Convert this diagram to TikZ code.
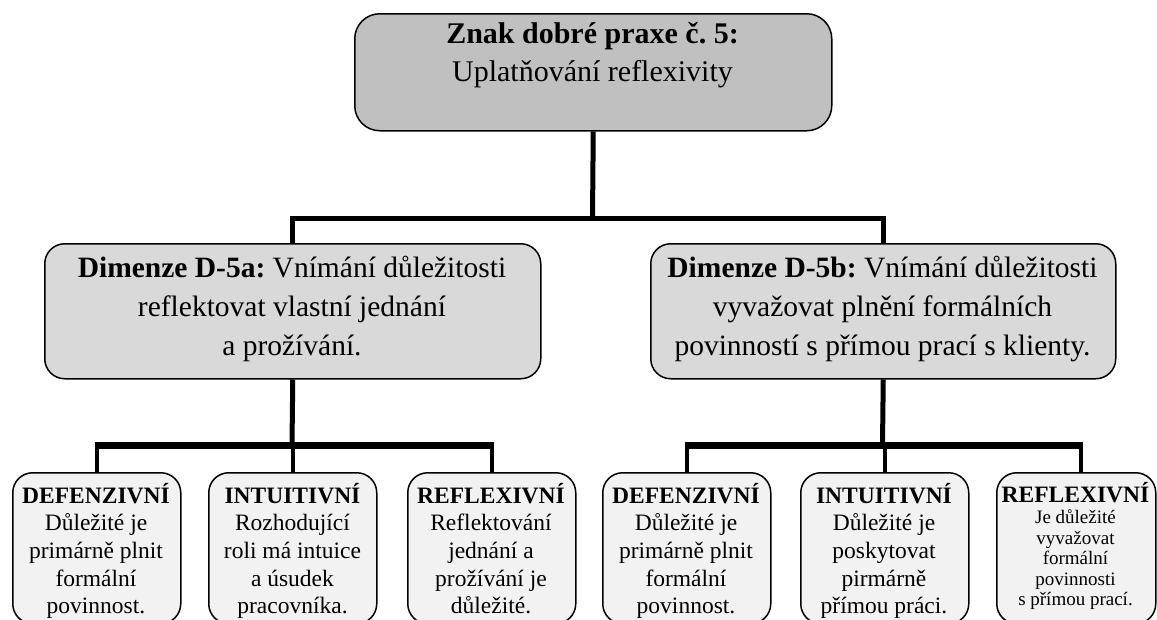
\documentclass[tikz,border=0pt]{standalone}
\usepackage{fontspec}
\setmainfont{Liberation Serif}
\definecolor{topfill}{HTML}{C0C0C0}
\definecolor{midfill}{HTML}{D9D9D9}
\definecolor{lowfill}{HTML}{F2F2F2}
\newcommand\mlines[3]{\fontsize{#1}{#2}\selectfont\frenchspacing\begin{tabular}[t]{@{}c@{}}#3\end{tabular}}
\tikzset{
  box/.style={draw=black, line width=1.5pt, rounded corners=20pt, inner sep=0pt, anchor=north west},
  topbox/.style={box, fill=topfill, rounded corners=25pt},
  midbox/.style={box, fill=midfill},
  lowbox/.style={box, fill=lowfill, minimum width=168pt, minimum height=151pt},
  txt/.style={anchor=base, inner sep=0pt},
  conn/.style={draw=black, line width=5pt, line join=miter},
  bar/.style={draw=black, line width=7pt},
  leg/.style={draw=black, line width=4.5pt},
}
\begin{document}
\begin{tikzpicture}[x=1pt, y=-1pt]
\path[use as bounding box] (0,0) rectangle (1157,619);
\clip (0,0) rectangle (1157,619);
\fill[white] (0,0) rectangle (1157,619);

% boxes
\node[topbox, minimum width=477pt, minimum height=117pt] (top) at (354,13) {};
\node[midbox, minimum width=496pt, minimum height=135pt] (d5a) at (44,243) {};
\node[midbox, minimum width=465pt, minimum height=135pt] (d5b) at (650,243) {};
\node[lowbox] (b1) at (12,472) {};
\node[lowbox] (b2) at (208,472) {};
\node[lowbox] (b3) at (407,472) {};
\node[lowbox] (b4) at (602,472) {};
\node[lowbox] (b5) at (800,472) {};
\node[lowbox, minimum width=159pt] (b6) at (996,472) {};

% texts
\node[txt] (topt) at (592.5,43) {\mlines{30}{38}{\textbf{Znak dobré praxe č. 5:}\\Uplatňování reflexivity}};
\node[txt] (d5at) at (292,277) {\mlines{29.5}{39}{\textbf{Dimenze D-5a:} Vnímání důležitosti\\reflektovat vlastní jednání\\a prožívání.}};
\node[txt] (d5bt) at (882.5,277) {\mlines{29.5}{39}{\textbf{Dimenze D-5b:} Vnímání důležitosti\\vyvažovat plnění formálních\\povinností s přímou prací s klienty.}};

\node[txt] (b1t) at (96,503) {\mlines{23.5}{27.7}{\textbf{DEFENZIVNÍ}\\Důležité je\\primárně plnit\\formální\\povinnost.}};
\node[txt] (b2t) at (292.5,503) {\mlines{23.5}{27.7}{\textbf{INTUITIVNÍ}\\Rozhodující\\roli má intuice\\a úsudek\\pracovníka.}};
\node[txt] (b3t) at (491,503) {\mlines{23.5}{27.7}{\textbf{REFLEXIVNÍ}\\Reflektování\\jednání a\\prožívání je\\důležité.}};
\node[txt] (b4t) at (686,503) {\mlines{23.5}{27.7}{\textbf{DEFENZIVNÍ}\\Důležité je\\primárně plnit\\formální\\povinnost.}};
\node[txt] (b5t) at (884,503) {\mlines{23.5}{27.7}{\textbf{INTUITIVNÍ}\\Důležité je\\poskytovat\\pirmárně\\přímou práci.}};
\node[txt] (b6h) at (1075.5,502) {\mlines{23.5}{27.7}{\textbf{REFLEXIVNÍ}}};
\node[txt] (b6t) at (1075.5,523.5) {\mlines{19}{20.5}{Je důležité\\vyvažovat\\formální\\povinnosti\\s přímou prací.}};

% connectors
\coordinate (h1) at (592.5,218);
\coordinate (h2a) at (292,445);
\coordinate (h2b) at (882.5,445);
\coordinate (b6in) at ([xshift=4.5pt]b6.north);
\draw[conn] (top.south) -- (h1);
\draw[conn] (d5a.north) |- (h1) -| (d5b.north);

\draw[conn] (d5a.south) -- (h2a);
\draw[conn] (d5b.south) -- (h2b);
\draw[leg] (b1.north) -- (b1.north |- h2a);
\draw[leg] (b2.north) -- (b2.north |- h2a);
\draw[leg] (b3.north) -- (b3.north |- h2a);
\draw[leg] (b4.north) -- (b4.north |- h2b);
\draw[leg] (b5.north) -- (b5.north |- h2b);
\draw[leg] (b6in) -- (b6in |- h2b);
\draw[bar] ([xshift=-2.25pt]b1.north |- h2a) -- ([xshift=2.25pt]b3.north |- h2a);
\draw[bar] ([xshift=-2.25pt]b4.north |- h2b) -- ([xshift=2.25pt]b6in |- h2b);
\end{tikzpicture}
\end{document}
